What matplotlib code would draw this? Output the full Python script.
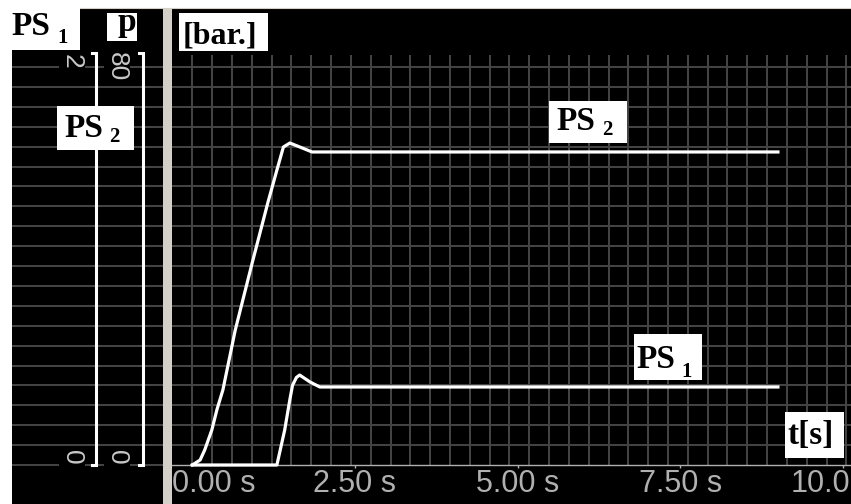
import numpy as np
import matplotlib
matplotlib.use("Agg")
import matplotlib.pyplot as plt
from matplotlib.patches import Rectangle

# --- data (t in s, value on the 0..2 scale) ---
PS2_T = [0, 0.12, 0.19, 0.30, 0.38, 0.47, 0.66, 0.92, 1.16, 1.30, 1.40, 1.50, 1.69, 1.84, 9.0]
PS2_V = [0, 0.025, 0.075, 0.176, 0.28, 0.377, 0.678, 1.015, 1.317, 1.482, 1.598, 1.618, 1.593, 1.573, 1.573]
PS1_T = [0, 1.30, 1.42, 1.50, 1.54, 1.60, 1.65, 1.81, 1.96, 9.0]
PS1_V = [0, 0, 0.176, 0.33, 0.40, 0.44, 0.452, 0.417, 0.392, 0.392]

X_TICKS = [0, 2.5, 5.0, 7.5, 10.0]
X_LABELS = ["0.00 s", "2.50 s", "5.00 s", "7.50 s", "10.0"]
SCALE_TOP = ["2", "80"]
SCALE_BOT = ["0", "0"]

W, H = 851, 504
X0_PX, PX_PER_S = 192.3, 65.07        # where t=0 sits and pixels per second
Y0_PX, PX_PER_U = 465.0, 199.0        # where 0 sits and pixels per unit
GRID_DX = 19.82 / PX_PER_S            # screen grid is ~20 px, not tied to ticks

GRID_C = "#454545"
TICK_C = "#b0b0b0"
BAR_C = "#d4d0c8"
SERIF = "Liberation Serif"
SANS = "Liberation Sans"


def v_of(py):
    return (Y0_PX - py) / PX_PER_U


fig = plt.figure(figsize=(W / 100, H / 100), dpi=100)
fig.patch.set_facecolor("white")

# background layer in pixel coords: grey separator bar
bg = fig.add_axes([0, 0, 1, 1], zorder=0)
bg.set_xlim(0, W); bg.set_ylim(H, 0); bg.axis("off")
bg.add_patch(Rectangle((163, 8), 9, H - 8, facecolor=BAR_C, edgecolor="none"))

ylim = (v_of(H), v_of(8))

# main plot area
ax = fig.add_axes([172 / W, 0, (W - 172) / W, (H - 8) / H], zorder=1)
ax.set_facecolor("black")
ax.set_xlim((172 - X0_PX) / PX_PER_S, (W - X0_PX) / PX_PER_S)
ax.set_ylim(*ylim)
for s in ax.spines.values():
    s.set_visible(False)
ax.set_xticks([]); ax.set_yticks([])

xs = np.arange(0, 10.15, GRID_DX)
ys = np.arange(1, 21) * 0.1
ax.vlines(xs, 0, v_of(55), color=GRID_C, lw=1.4, zorder=1)
ax.hlines(ys, *ax.get_xlim(), color=GRID_C, lw=1.4, zorder=1)
ax.axhline(0, color=TICK_C, lw=1.0, zorder=2)
ax.vlines(X_TICKS[1:], 0, -3 / PX_PER_U, color=TICK_C, lw=1.0, zorder=2)

ax.plot(PS2_T, PS2_V, color="white", lw=2.3, zorder=3, solid_joinstyle="round")
ax.plot(PS1_T, PS1_V, color="white", lw=2.3, zorder=3, solid_joinstyle="round")

xmin, xmax = ax.get_xlim()
for x, lab in zip(X_TICKS, X_LABELS):
    if x == 0:                               # first label pushed right of the bar
        px, ha = xmin, "left"
    elif x == X_TICKS[-1]:                   # last one runs into the edge
        px, ha = xmax - 1 / PX_PER_S, "right"
    else:
        px, ha = x, "center"
    ax.text(px, v_of(469), lab, ha=ha, va="top",
            fontsize=22, family=SANS, color=TICK_C, clip_on=False)

# left scale panel, x in pixels, y shared with main plot
axl = fig.add_axes([12 / W, 0, 151 / W, (H - 8) / H], zorder=1)
axl.set_facecolor("black")
axl.set_xlim(12, 163); axl.set_ylim(*ylim)
for s in axl.spines.values():
    s.set_visible(False)
axl.set_xticks([]); axl.set_yticks([])
axl.hlines(np.arange(0, 21) * 0.1, 12, 163, color=GRID_C, lw=1.4, zorder=1)

for xl, top_lab, bot_lab, lx in zip([96, 143], SCALE_TOP, SCALE_BOT, [72, 117]):
    axl.plot([xl - 4, xl, xl, xl - 4], [v_of(53), v_of(53), 0, 0],
             color="white", lw=2.2, zorder=3, solid_joinstyle="miter")
    box = dict(facecolor="black", edgecolor="none", pad=1)
    axl.text(lx, v_of(61 if top_lab == "2" else 67), top_lab, rotation=-90,
             ha="center", va="center", fontsize=19, family=SANS, color="#c8c8c8",
             bbox=box, zorder=4)
    axl.text(lx, v_of(457), bot_lab, rotation=-90, ha="center", va="center",
             fontsize=19, family=SANS, color="#c8c8c8", bbox=box, zorder=4)

# label boxes on top, pixel coords
top = fig.add_axes([0, 0, 1, 1], zorder=5)
top.set_xlim(0, W); top.set_ylim(H, 0); top.axis("off")
top.patch.set_alpha(0)
top.plot([80, W], [8, 8], color=BAR_C, lw=0.8)


def tag(box, text, tx, ty, sub=None, sx=None, sy=None, size=24):
    x0, y0, x1, y1 = box
    top.add_patch(Rectangle((x0, y0), x1 - x0, y1 - y0, facecolor="white", edgecolor="none"))
    top.text(tx, ty, text, ha="left", va="baseline", fontsize=size,
             family=SERIF, weight="bold", color="black")
    if sub:
        top.text(sx, sy, sub, ha="left", va="baseline", fontsize=15,
                 family=SERIF, weight="bold", color="black")


tag((0, 0, 80, 50), "PS", 11, 35, "1", 57, 43)
tag((107, 13, 137, 41), "p", 117, 31)
tag((179, 13, 268, 51), "[bar.]", 183, 44, size=23)
tag((57, 106, 134, 150), "PS", 64, 137, "2", 109, 142)
tag((549, 101, 627, 143), "PS", 556, 130, "2", 602, 135)
tag((634, 334, 702, 380), "PS", 636, 368, "1", 681, 377)
tag((785, 412, 844, 458), "t[s]", 787, 444)

fig.savefig("out.png", dpi=100, facecolor="white")
plt.close(fig)
